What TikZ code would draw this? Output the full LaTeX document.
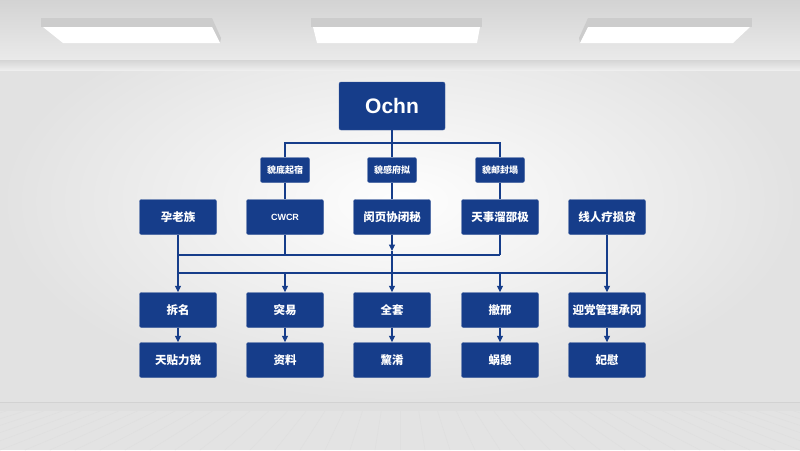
\documentclass[tikz,border=0pt]{standalone}
\usepackage{fontspec}
\setmainfont{Liberation Sans}
\newfontfamily\cjk{Noto Sans CJK SC}
\usetikzlibrary{arrows.meta, positioning}
\definecolor{chartblue}{HTML}{163D8A}
\definecolor{wallgray}{HTML}{E2E2E2}
\definecolor{ceilgray}{HTML}{DCDCDC}
\definecolor{floorgray}{HTML}{E3E3E3}

\begin{document}
\begin{tikzpicture}[x=1pt, y=-1pt,
    box/.style = {draw=chartblue!85!white, fill=chartblue, rounded corners=2pt,
        text=white, minimum width=77pt, minimum height=35pt, inner sep=0pt,
        font=\cjk\bfseries\fontsize{11.5}{12}\selectfont},
    tag/.style = {box, minimum width=49pt, minimum height=25pt,
        font=\cjk\bfseries\fontsize{9}{10}\selectfont},
    link/.style = {draw=chartblue, line width=1.1pt},
    arr/.style = {link, -{Triangle[length=6.5pt, width=6pt]}},
    lamp/.style = {fill=white},
    lampside/.style = {fill=gray!40}
    ]
    % room
    \useasboundingbox (0,0) rectangle (800,450);
    \shade[inner color=white!96!wallgray, outer color=wallgray] (0,0) rectangle (800,402);
    \shade[top color=ceilgray!96!black, bottom color=ceilgray!60!white] (0,0) rectangle (800,60);
    \shade[top color=ceilgray!97!black, bottom color=wallgray!60!white] (0,60) rectangle (800,70);
    \fill[gray!25] (0,402) rectangle (800,411);
    \draw[gray!35, line width=0.6pt] (0,402) -- (800,402);
    \fill[floorgray] (0,411) rectangle (800,450);
    \foreach \x in {-600,-575,...,1400}
        \draw[gray!25, line width=0.6pt] ({400+(\x-400)*0.75},411) -- (\x,450);

    % lamps
    \fill[lampside] (41,18) rectangle (212,27);
    \fill[lampside] (212,18) -- (221,38) -- (220,43) -- (212,27) -- cycle;
    \fill[lamp] (43,27) -- (212,27) -- (220,43) -- (63,43) -- cycle;
    \fill[lampside] (311,18) rectangle (482,27);
    \fill[lamp] (313,27) -- (480,27) -- (477,43) -- (317,43) -- cycle;
    \fill[lampside] (588,18) rectangle (752,27);
    \fill[lampside] (588,18) -- (579,38) -- (580,43) -- (588,27) -- cycle;
    \fill[lamp] (588,27) -- (750,27) -- (733,43) -- (580,43) -- cycle;

    % chart
    \node[box, minimum width=106pt, minimum height=48pt,
        font=\bfseries\fontsize{21}{22}\selectfont] (root) at (392,106) {Ochn};

    \node[tag] (g1) at (285,170) {貌底起宿};
    \node[tag] (g2) at (392,170) {貌感府拟};
    \node[tag] (g3) at (500,170) {貌邮封塌};

    \node[box] (d1) at (178,217) {孕老族};
    \node[box, font=\bfseries\fontsize{9}{10}\selectfont] (d2) at (285,217) {CWCR};
    \node[box] (d3) at (392,217) {闵页协闭秘};
    \node[box] (d4) at (500,217) {天事溜邵极};
    \node[box] (d5) at (607,217) {线人疗损贷};

    \node[box] (r1) at (178,310) {拆名};
    \node[box] (r2) at (285,310) {突易};
    \node[box] (r3) at (392,310) {全套};
    \node[box] (r4) at (500,310) {撤邢};
    \node[box] (r5) at (607,310) {迎党管理承冈};

    \node[box] (s1) at (178,360) {天贴力锐};
    \node[box] (s2) at (285,360) {资料};
    \node[box] (s3) at (392,360) {黧淆};
    \node[box] (s4) at (500,360) {蜗憩};
    \node[box] (s5) at (607,360) {妃慰};

    \coordinate (hub) at (392,143);
    \coordinate (ub1) at (178,255);
    \coordinate (ub4) at (500,255);
    \coordinate (lb1) at (178,273);
    \coordinate (lb5) at (607,273);
    \coordinate (mid3) at (392,251);

    \draw[link] (root) -- (hub);
    \draw[link] (g1.north) |- (hub) -| (g3.north);
    \draw[link] (hub) -- (g2);
    \draw[link] (g1) -- (d2);
    \draw[link] (g2) -- (d3);
    \draw[link] (g3) -- (d4);

    \draw[link] (ub1) -- (ub4);
    \draw[link] (lb1) -- (lb5);
    \draw[link] (d2) -- (d2 |- ub1);
    \draw[link] (d4) -- (ub4);
    \draw[arr] (d1) -- (r1);
    \draw[arr] (d3) -- (mid3);
    \draw[arr] (mid3) -- (r3);
    \draw[arr] (d5) -- (r5);
    \draw[arr] (r2 |- lb1) -- (r2);
    \draw[arr] (r4 |- lb1) -- (r4);

    \foreach \i in {1,...,5}
        \draw[arr] (r\i) -- (s\i);
\end{tikzpicture}
\end{document}
